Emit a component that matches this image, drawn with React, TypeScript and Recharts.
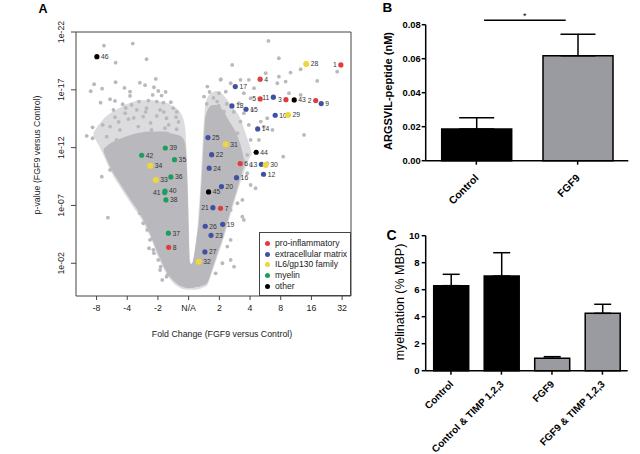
import React from 'react';
import {
  ComposedChart,
  Area,
  Scatter,
  XAxis,
  YAxis,
  ReferenceArea,
  ReferenceLine,
  BarChart,
  Bar,
  Cell,
  ErrorBar,
  Label,
} from 'recharts';

const FONT = '"Liberation Sans", Arial, Helvetica, sans-serif';
const GREY = '#b9b9bd';
const BAR_GREY = '#9a9ba1';

// ---------- A: volcano plot ----------
// x = log2 fold change (ticks show the fold change), y = -log10(p)
const foldTicks = [-3, -2, -1, 0, 1, 2, 3, 4, 5];
const foldLabels = ['-8', '-4', '-2', 'N/A', '2', '4', '8', '16', '32'];
const pTicks = [2, 7, 12, 17, 22];
const pLabels = ['1e-02', '1e-07', '1e-12', '1e-17', '1e-22'];

// outline of the dense core of the protein cloud (low / high -log10 p at each fold change)
const cloudFc = [-2.77, -2.54, -2.21, -1.89, -1.56, -1.24, -0.98, -0.75, -0.52, -0.26, -0.13, -0.07, -0.03, 0, 0.03, 0.08, 0.13, 0.16, 0.26, 0.33, 0.39, 0.46, 0.52, 0.59, 0.78, 0.91, 1.11, 1.3, 1.5, 1.69, 1.82, 1.89];
const cloudLow = [11.63, 10.24, 8.77, 7.48, 6.18, 4.45, 2.72, 1.42, 0.56, 0.04, -0.09, -0.14, -0.14, -0.14, -0.14, -0.14, -0.14, -0.12, -0.05, -0.05, 0.04, 0.08, 0.15, 0.25, 1.59, 2.63, 4.19, 5.92, 7.74, 9.38, 10.5, 10.7];
const cloudHigh = [11.9, 12.4, 12.8, 13.1, 13.3, 13.4, 13.4, 13.4, 13.2, 13.0, 12.5, 10.94, 8.1, 5.14, 2.29, 1.95, 2.11, 2.46, 4.19, 5.57, 7.91, 10.94, 13.96, 15.09, 15.69, 15.69, 15.26, 14.4, 13.53, 12.24, 10.94, 10.72];

// looser fringe around the core, where the points no longer overlap fully
const fringeFc = [-3.1, -2.77, -2.54, -2.21, -1.89, -1.56, -1.24, -0.98, -0.75, -0.52, -0.26, -0.13, -0.07, -0.03, 0, 0.03, 0.08, 0.13, 0.2, 0.3, 0.39, 0.46, 0.52, 0.59, 0.78, 0.91, 1.11, 1.3, 1.5, 1.69, 1.82, 1.95, 2.05];
const fringeLow = [13.0, 11.35, 9.95, 8.5, 7.2, 5.9, 4.2, 2.45, 1.2, 0.35, -0.15, -0.25, -0.3, -0.3, -0.3, -0.3, -0.3, -0.3, -0.3, -0.25, -0.2, -0.1, -0.05, 0.05, 1.35, 2.35, 3.9, 5.6, 7.4, 9.0, 10.0, 10.9, 11.4];
const fringeHigh = [13.3, 14.5, 15.0, 15.5, 15.9, 16.1, 16.1, 16.0, 15.9, 15.6, 15.0, 14.0, 12.0, 9.0, 6.0, 3.0, 1.7, 2.0, 3.0, 5.5, 9.0, 12.5, 15.0, 16.2, 16.8, 16.9, 16.6, 16.0, 15.3, 14.5, 13.5, 12.5, 11.6];

// scattered proteins outside the dense cloud
const greyFc = [
  -2.76, -1.82, -2.38, -1.37, -3.08, -3.19, -2.82, -2.38, -2.09, -1.91, -1.59, -1.42,
  -1.07, -1.13, -0.99, -0.88, -2.87, -2.56, -2.4, -2.15, -1.91, -1.62, -1.31, -1.04,
  -0.82, -0.58, -2.45, -2.07, -1.69, -1.37, -0.93, -0.5, -2.4, -1.96, -1.48, -1.04,
  -0.72, -0.41, -3.13, -2.8, -2.56, -2.24, -1.64, -1.21, -0.77, -0.39, -3.32, -3.13,
  -2.67, -2.35, -1.93, -0.5, -0.28, -2.63, -2.83, -2.56, -2.35, -2.02, -1.8, -1.59,
  -1.48, -1.26, -1.15, -0.99, -0.93, -0.72, -1.35, -1.18, -1.13, -0.91, -0.86, -0.69,
  -1.29, -2.05, -1.79, -1.24, -0.81, -0.65, -0.33, -1.4, -2.28, -1.86, -1.17, -0.75,
  -0.39,
  2.6, 1.42, 2.94, 3.32, 3.65, 4.19, 2.51, 2.94, 2.89, 3.16, 3.27, 3.65,
  4.84, 1.96, 2.13, 1.04, 1.21, 0.99, 1.8, 2.02, 1.64, 0.93, 0.77, 1.15,
  1.8, 2.07, 2.56, 2.35, 1.69, 1.96, 3.76, 2.45, 2.29, 2.02, 2.73, 1.59,
  3.08, 2.56, 1.59, 1.91, 2.02, 2.02, 2.18, 1.75, 1.8, 1.75, 1.59, 1.31,
  1.37, 1.37, 1.26, 1.37, 1.1, 1.48, 1.91, 1.59, 0.88, 1.05, 1.37, 1.69,
  0.61, 0.5, 0.59, 0.81, 0.98, 1.24, 1.47, 0.68,
];
const greyP = [
  20.82, 21.0, 19.35, 19.65, 17.48, 16.88, 17.1, 17.66, 17.16, 16.84, 17.62, 17.4,
  17.94, 17.22, 16.9, 16.5, 15.89, 16.19, 16.04, 15.75, 16.47, 15.98, 16.07, 15.98,
  15.89, 15.93, 15.26, 14.98, 15.26, 15.41, 15.26, 15.41, 14.63, 14.46, 14.68, 14.74,
  14.54, 14.63, 13.76, 13.96, 13.82, 13.53, 13.82, 13.53, 13.68, 13.59, 13.01, 12.81,
  12.95, 12.67, 12.67, 12.95, 12.52, 5.94, 9.49, 10.07, 10.36, 8.63, 7.48, 6.33,
  5.46, 4.02, 3.15, 2.29, 1.42, 0.84, 4.88, 4.16, 2.87, 1.71, 0.56, 0.99,
  3.3, 15.43, 14.57, 14.14, 15.09, 13.96, 14.22, 15.09, 14.22, 15.69, 16.56, 16.82,
  15.09,
  21.23, 19.15, 19.73, 18.49, 18.78, 17.77, 18.44, 18.14, 17.57, 17.71, 16.71, 16.56,
  18.57, 17.86, 17.14, 17.86, 16.84, 16.71, 16.71, 16.27, 15.84, 15.98, 15.26, 15.11,
  14.98, 15.26, 14.54, 14.25, 14.25, 13.96, 13.1, 13.82, 12.67, 12.67, 13.53, 13.25,
  11.22, 10.65, 11.95, 11.37, 10.5, 8.77, 8.49, 7.48, 5.75, 6.03, 7.19, 7.76,
  6.61, 4.02, 3.44, 2.29, 2.0, 1.71, 9.79, 9.21, 1.13, 17.92, 17.57, 17.86,
  17.28, 16.41, 15.78, 16.3, 15.61, 15.78, 15.09, 16.82,
];

const groups = ['pro-inflammatory', 'extracellular matrix', 'IL6/gp130 family', 'myelin', 'other'];
const groupColors = ['#e23b3f', '#3f51a2', '#efd63a', '#1e9e5c', '#000000'];

// highlighted proteins 1..46
const proteinIds = Array.from({ length: 46 }, (_, i) => i + 1);
const proteinGroup = [
  0, 0, 0, 0, 0, 0, 0, 0,
  1, 1, 1, 1, 1, 1, 1, 1, 1, 1, 1, 1, 1, 1, 1, 1, 1, 1, 1,
  2, 2, 2, 2, 2, 2, 2,
  3, 3, 3, 3, 3, 3, 3, 3,
  4, 4, 4, 4,
];
const proteinFc = [
  4.96, 4.14, 3.17, 2.33, 2.33, 1.68, 1.04, -0.65,
  4.32, 2.82, 2.76, 2.44, 2.37, 2.25, 1.87, 1.56, 1.52, 1.41, 1.11, 1.07, 0.79, 0.75, 0.73, 0.67, 0.63, 0.54, 0.53,
  3.83, 3.24, 2.51, 1.21, 0.33, -1.07, -1.25,
  -0.46, -0.58, -0.66, -0.74, -0.76, -0.77, -0.78, -1.53,
  3.44, 2.2, 0.65, -2.99,
];
const proteinP = [
  19.15, 16.07, 16.15, 17.92, 16.21, 10.62, 6.76, 3.38,
  15.81, 14.8, 16.36, 9.7, 10.56, 13.62, 15.32, 9.4, 17.28, 15.61, 5.37, 8.63, 6.81, 11.39, 4.42, 10.22, 12.87, 5.2, 2.98,
  19.24, 14.83, 10.5, 12.29, 2.14, 9.21, 10.44,
  10.96, 9.47, 4.6, 7.48, 11.97, 8.25, 8.11, 11.34,
  16.13, 11.6, 8.17, 19.87,
];
const labelOnLeft = [1, 2, 3, 5, 11, 13, 21, 41];

// ---------- B: ARGSVIL-peptide ----------
const conditionsB = ['Control', 'FGF9'];
const peptide = [0.0186, 0.0618];
const peptideSem = [0.0067, 0.0126];
const fillsB = ['#000000', BAR_GREY];
// significance bar: level and its extent along the category axis (0..1)
const sigLevel = 0.0826;
const sigFrom = 0.288;
const sigTo = 0.691;

// ---------- C: myelination ----------
const conditionsC = ['Control', 'Control & TIMP 1,2,3', 'FGF9', 'FGF9 & TIMP 1,2,3'];
const myelination = [6.3, 7.01, 0.92, 4.25];
const myelinationSem = [0.84, 1.73, 0.12, 0.67];
const fillsC = ['#000000', '#000000', BAR_GREY, BAR_GREY];

const GreyDot = (props: any) => <circle cx={props.cx} cy={props.cy} r={1.9} fill={GREY} />;

const ProteinDot = (props: any) => {
  const { cx, cy, payload, color, r } = props;
  const left = labelOnLeft.includes(payload.id);
  return (
    <g>
      <circle cx={cx} cy={cy} r={r} fill={color} />
      <text
        x={left ? cx - r - 1.5 : cx + r + 1.5}
        y={cy}
        dy="0.35em"
        textAnchor={left ? 'end' : 'start'}
        fontSize={6.8}
        fill="#333"
        fontFamily={FONT}
      >
        {payload.id}
      </text>
    </g>
  );
};

const PTick = (props: any) => {
  const { x, y, payload } = props;
  return (
    <text
      transform={`translate(${x - 5},${y}) rotate(-90)`}
      textAnchor="middle"
      fontSize={8.8}
      fill="#222"
      fontFamily={FONT}
    >
      {pLabels[pTicks.indexOf(payload.value)]}
    </text>
  );
};

const SlantTick = (props: any) => {
  const { x, y, payload, fs, dy } = props;
  return (
    <text
      transform={`translate(${x + 3},${y + dy}) rotate(-45)`}
      textAnchor="end"
      fontSize={fs}
      fontWeight="bold"
      fill="#000"
      fontFamily={FONT}
    >
      {payload.value}
    </text>
  );
};

const VolcanoPanel = () => {
  const fringe = fringeFc.map((x, i) => ({ x, fringe: [fringeLow[i], fringeHigh[i]] }));
  const cloud = cloudFc.map((x, i) => ({ x, band: [cloudLow[i], cloudHigh[i]] }));
  const grey = greyFc.map((x, i) => ({ x, y: greyP[i] }));
  const proteins = proteinIds.map((id, i) => ({ id, x: proteinFc[i], y: proteinP[i], group: proteinGroup[i] }));

  return (
    <div style={{ position: 'absolute', left: 0, top: 0, width: 360, height: 350 }}>
      <ComposedChart width={360} height={350} margin={{ top: 32, right: 9, bottom: 24, left: 32 }}>
        <XAxis
          type="number"
          dataKey="x"
          domain={[-3.67, 5.29]}
          ticks={foldTicks}
          interval={0}
          allowDataOverflow
          tickFormatter={(v) => foldLabels[foldTicks.indexOf(v)]}
          axisLine={false}
          tickLine={{ stroke: '#444' }}
          tickSize={4}
          tickMargin={5}
          height={30}
          tick={{ fontSize: 8.8, fill: '#222', fontFamily: FONT }}
        >
          <Label
            content={(p: any) => (
              <text x={222} y={p.viewBox.y + 41} textAnchor="middle" fontSize={8.8} fill="#222" fontFamily={FONT}>
                Fold Change (FGF9 versus Control)
              </text>
            )}
          />
        </XAxis>
        <YAxis
          type="number"
          dataKey="y"
          domain={[-0.83, 22]}
          ticks={pTicks}
          interval={0}
          allowDataOverflow
          width={44}
          axisLine={false}
          tickLine={{ stroke: '#444' }}
          tickSize={5}
          tick={<PTick />}
        >
          <Label
            content={() => (
              <text transform="translate(40,155) rotate(-90)" textAnchor="middle" fontSize={8.8} fill="#222" fontFamily={FONT}>
                p-value (FGF9 versus Control)
              </text>
            )}
          />
        </YAxis>
        <Area data={fringe} dataKey="fringe" type="monotone" fill={GREY} fillOpacity={0.5} stroke="none" isAnimationActive={false} />
        <Area data={cloud} dataKey="band" type="monotone" fill={GREY} fillOpacity={1} stroke="none" isAnimationActive={false} />
        <Scatter data={grey} shape={<GreyDot />} isAnimationActive={false} />
        {groups.map((g, gi) => (
          <Scatter
            key={g}
            name={g}
            data={proteins.filter((p) => p.group === gi)}
            isAnimationActive={false}
            shape={(p: any) => <ProteinDot {...p} color={groupColors[gi]} r={gi === 2 ? 3 : 2.6} />}
          />
        ))}
        <ReferenceArea x1={-3.67} x2={5.29} y1={-0.83} y2={22} fill="none" stroke="#444" strokeWidth={1} />
      </ComposedChart>
      <div
        style={{
          position: 'absolute',
          left: 259,
          top: 232,
          width: 92,
          height: 64,
          boxSizing: 'border-box',
          border: '1px solid #444',
          background: '#fff',
          paddingTop: 5,
          fontFamily: FONT,
          fontSize: 8.6,
          color: '#222',
        }}
      >
        {groups.map((g, gi) => (
          <div key={g} style={{ display: 'flex', alignItems: 'center', height: 10.7, lineHeight: '10.7px' }}>
            <span
              style={{
                display: 'inline-block',
                width: 5,
                height: 5,
                borderRadius: '50%',
                background: groupColors[gi],
                marginLeft: 5,
                marginRight: 5,
              }}
            />
            <span>{g}</span>
          </div>
        ))}
      </div>
    </div>
  );
};

const PeptidePanel = () => {
  const data = conditionsB.map((name, i) => ({ name, value: peptide[i], err: [0, peptideSem[i]] }));
  return (
    <div style={{ position: 'absolute', left: 360, top: 0 }}>
      <BarChart width={280} height={220} data={data} margin={{ top: 24.7, right: 11.7, bottom: 9.3, left: 15.7 }}>
        <XAxis
          dataKey="name"
          height={50}
          interval={0}
          axisLine={{ stroke: '#000', strokeWidth: 1.5 }}
          tickLine={{ stroke: '#000', strokeWidth: 1.5 }}
          tickSize={4}
          tick={(p: any) => <SlantTick {...p} fs={10.5} dy={12} />}
        />
        <XAxis xAxisId="sig" type="number" domain={[0, 1]} allowDataOverflow hide />
        <YAxis
          domain={[0, 0.08]}
          ticks={[0, 0.02, 0.04, 0.06, 0.08]}
          interval={0}
          width={50}
          tickFormatter={(v) => v.toFixed(2)}
          axisLine={{ stroke: '#000', strokeWidth: 1.5 }}
          tickLine={{ stroke: '#000', strokeWidth: 1.5 }}
          tickSize={4}
          tickMargin={1}
          tick={{ fontSize: 9.4, fontWeight: 'bold', fill: '#000', fontFamily: FONT }}
        >
          <Label
            content={() => (
              <text transform="translate(32,91) rotate(-90)" textAnchor="middle" fontSize={11} fontWeight="bold" fill="#000" fontFamily={FONT}>
                ARGSVIL-peptide (nM)
              </text>
            )}
          />
        </YAxis>
        <Bar dataKey="value" barSize={70} stroke="#000" strokeWidth={1.5} isAnimationActive={false}>
          {data.map((d, i) => (
            <Cell key={d.name} fill={fillsB[i]} />
          ))}
          <ErrorBar dataKey="err" width={17.5} stroke="#000" strokeWidth={1.5} direction="y" />
        </Bar>
        <ReferenceLine
          xAxisId="sig"
          segment={[
            { x: sigFrom, y: sigLevel },
            { x: sigTo, y: sigLevel },
          ]}
          stroke="#000"
          strokeWidth={1.5}
          ifOverflow="visible"
          label={{ value: '*', position: 'top', offset: 1, fontSize: 9, fill: '#000', fontFamily: FONT }}
        />
      </BarChart>
    </div>
  );
};

const MyelinationPanel = () => {
  const data = conditionsC.map((name, i) => ({ name, value: myelination[i], err: [0, myelinationSem[i]] }));
  return (
    <div style={{ position: 'absolute', left: 360, top: 220 }}>
      <BarChart width={280} height={234} data={data} margin={{ top: 15.7, right: 12.3, bottom: 3.3, left: 15.7 }}>
        <XAxis
          dataKey="name"
          height={80}
          interval={0}
          axisLine={{ stroke: '#000', strokeWidth: 1.5 }}
          tickLine={{ stroke: '#000', strokeWidth: 1.5 }}
          tickSize={4}
          tick={(p: any) => <SlantTick {...p} fs={10} dy={8} />}
        />
        <YAxis
          domain={[0, 10]}
          ticks={[0, 2, 4, 6, 8, 10]}
          interval={0}
          width={50}
          axisLine={{ stroke: '#000', strokeWidth: 1.5 }}
          tickLine={{ stroke: '#000', strokeWidth: 1.5 }}
          tickSize={4}
          tickMargin={2}
          tick={{ fontSize: 9.6, fontWeight: 'bold', fill: '#000', fontFamily: FONT }}
        >
          <Label
            content={() => (
              <text transform="translate(44,82) rotate(-90)" textAnchor="middle" fontSize={12.5} fill="#000" fontFamily={FONT}>
                myelination (% MBP)
              </text>
            )}
          />
        </YAxis>
        <Bar dataKey="value" barSize={35} stroke="#000" strokeWidth={1.5} isAnimationActive={false}>
          {data.map((d, i) => (
            <Cell key={d.name} fill={fillsC[i]} />
          ))}
          <ErrorBar dataKey="err" width={8.5} stroke="#000" strokeWidth={1.5} direction="y" />
        </Bar>
      </BarChart>
    </div>
  );
};

export default function App() {
  return (
    <div style={{ position: 'absolute', left: 0, top: 0, width: 640, height: 454, background: '#fff', overflow: 'hidden' }}>
      <VolcanoPanel />
      <PeptidePanel />
      <MyelinationPanel />
      <svg width={640} height={454} style={{ position: 'absolute', left: 0, top: 0, pointerEvents: 'none' }}>
        <text x={38.5} y={12.7} fontSize={12.5} fontWeight="bold" fontFamily={FONT} fill="#000">A</text>
        <text x={382.5} y={12.3} fontSize={13.5} fontWeight="bold" fontFamily={FONT} fill="#000">B</text>
        <text x={386.5} y={240} fontSize={14} fontWeight="bold" fontFamily={FONT} fill="#000">C</text>
      </svg>
    </div>
  );
}
